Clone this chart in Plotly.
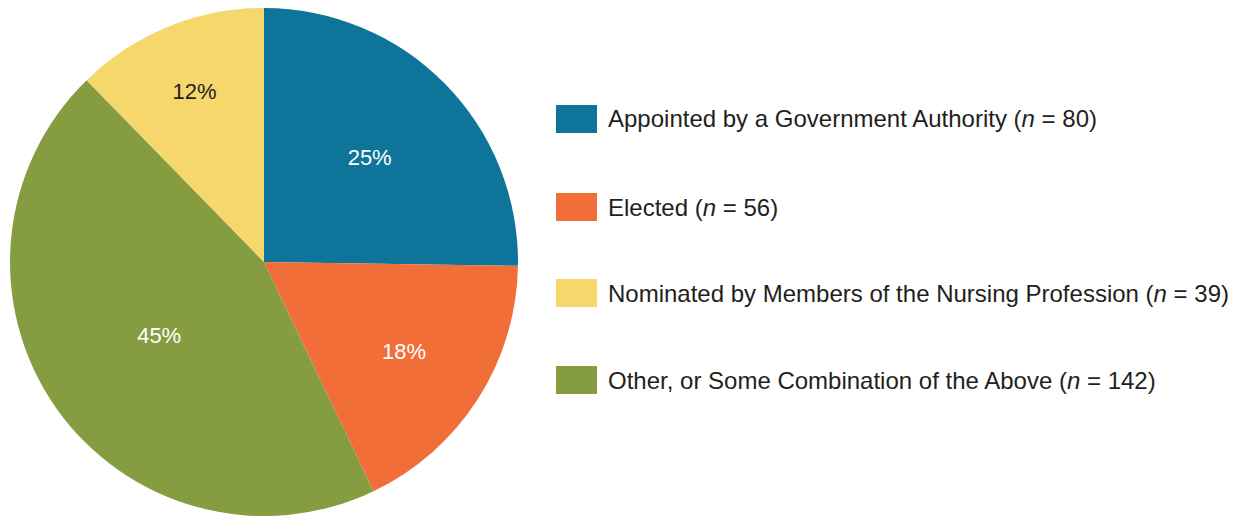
import plotly.graph_objects as go

# Board-member selection method and respondent counts
categories = [
    "Appointed by a Government Authority",
    "Elected",
    "Nominated by Members of the Nursing Profession",
    "Other, or Some Combination of the Above",
]
counts = [80, 56, 39, 142]
colors = ["#0E7499", "#F26E39", "#F5D76B", "#869C40"]
text_colors = ["#FFFFFF", "#FFFFFF", "#231F20", "#FFFFFF"]

# Slice order around the pie (clockwise from 12 o'clock)
slice_order = [0, 1, 3, 2]

W, H = 1244, 516
FONT = "Liberation Sans, Arial, sans-serif"

fig = go.Figure()
fig.add_trace(go.Pie(
    labels=[categories[i] for i in slice_order],
    values=[counts[i] for i in slice_order],
    marker=dict(colors=[colors[i] for i in slice_order], line=dict(width=0)),
    textinfo="percent",
    texttemplate="%{percent:.0%}",
    textposition="inside",
    insidetextorientation="horizontal",
    insidetextfont=dict(family=FONT, size=22,
                        color=[text_colors[i] for i in slice_order]),
    sort=False,
    direction="clockwise",
    rotation=0,
    showlegend=False,
    hoverinfo="label+value+percent",
    domain=dict(x=[8 / W, 520 / W], y=[0, 1 - 8 / H]),
))

# Hand-built legend: swatch + label per category, top to bottom
row_y = [119, 207, 293, 380]
shapes, annotations = [], []
for i, cat in enumerate(categories):
    yc = row_y[i]
    shapes.append(dict(
        type="rect", xref="paper", yref="paper",
        x0=556 / W, x1=597 / W,
        y0=1 - (yc + 14) / H, y1=1 - (yc - 14) / H,
        fillcolor=colors[i], line=dict(width=0),
    ))
    annotations.append(dict(
        xref="paper", yref="paper",
        x=606 / W, y=1 - yc / H,
        xanchor="left", yanchor="middle",
        text=f"{cat} (<i>n</i> = {counts[i]})",
        showarrow=False,
        font=dict(family=FONT, size=24, color="#231F20"),
    ))

fig.update_layout(
    width=W, height=H,
    margin=dict(l=0, r=0, t=0, b=0),
    paper_bgcolor="white",
    plot_bgcolor="white",
    shapes=shapes,
    annotations=annotations,
)

fig.write_html("out.html")
